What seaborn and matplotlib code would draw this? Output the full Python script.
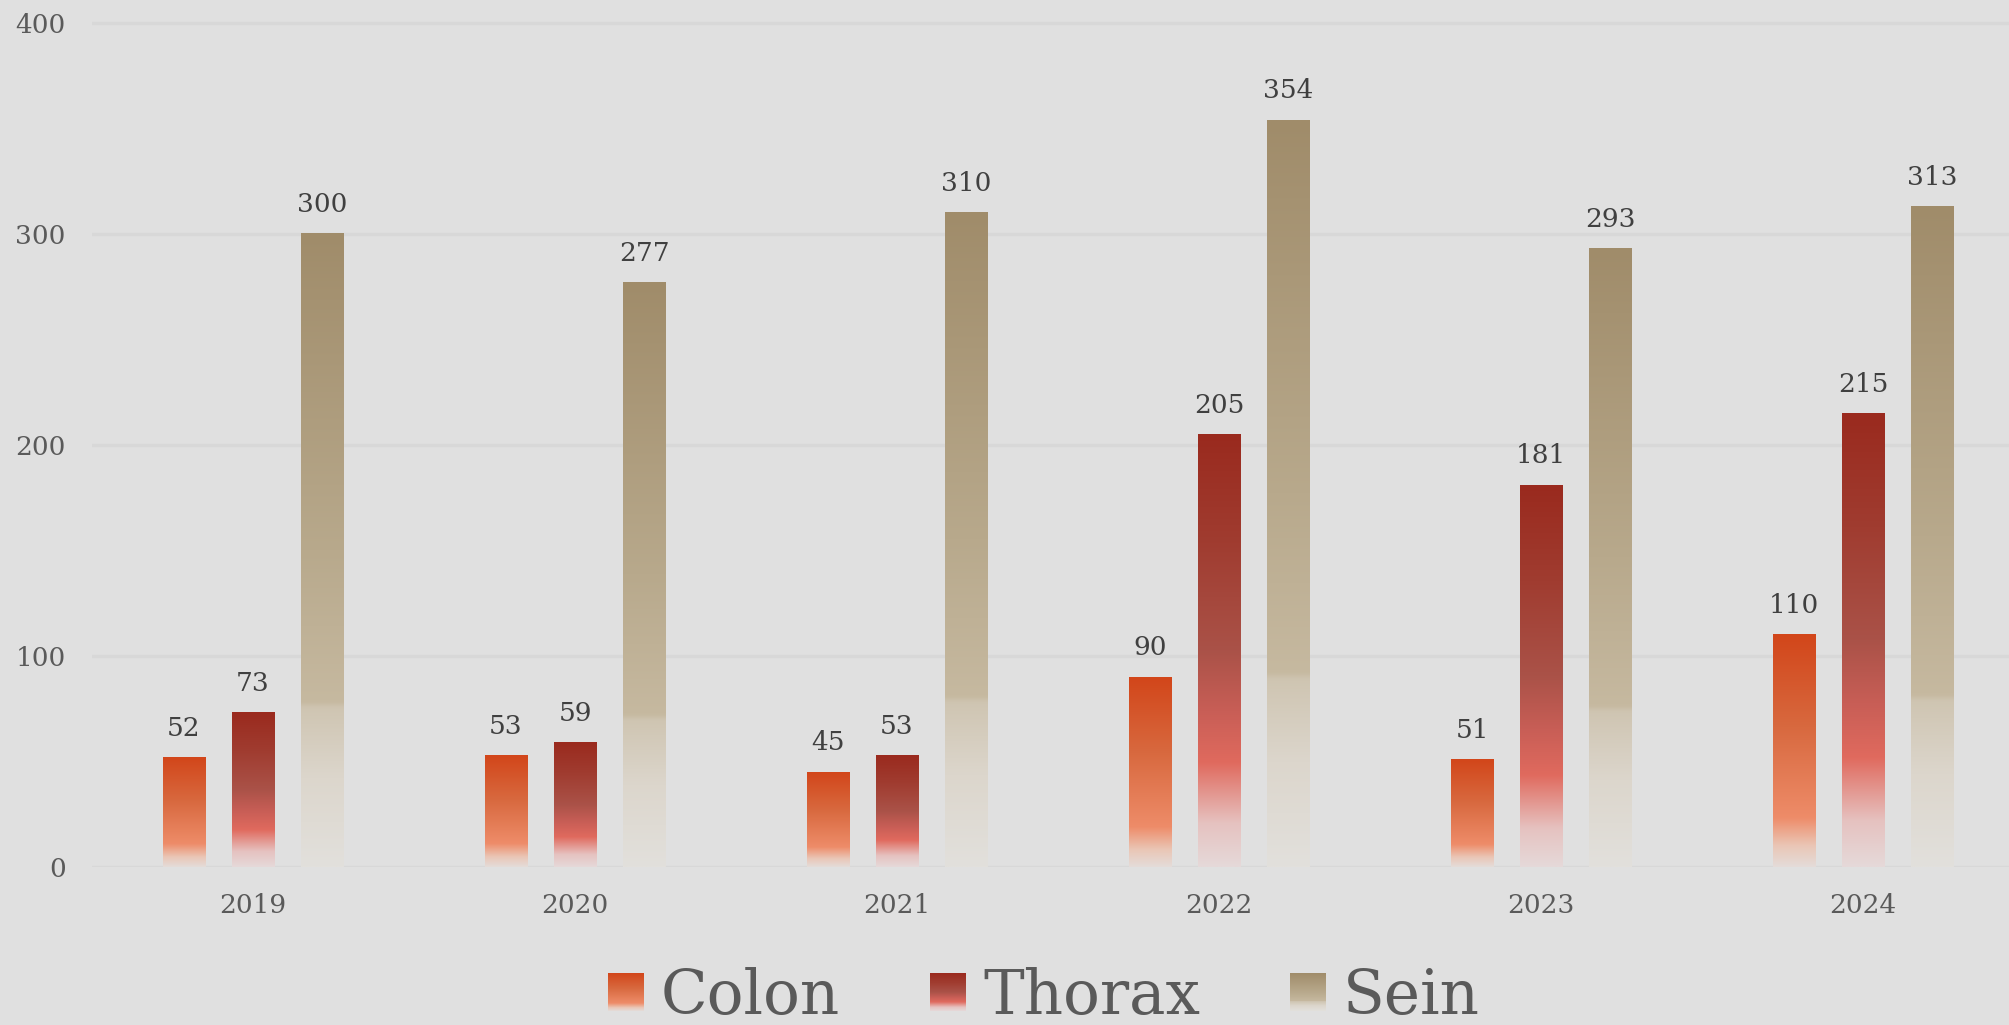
import numpy as np
import pandas as pd
import matplotlib.pyplot as plt
import seaborn as sns

from matplotlib.colors import LinearSegmentedColormap
from matplotlib.legend_handler import HandlerBase
from matplotlib.image import BboxImage
from matplotlib.transforms import Bbox, TransformedBbox
from matplotlib.patches import Rectangle

# données
years = ["2019", "2020", "2021", "2022", "2023", "2024"]
series = ["Colon", "Thorax", "Sein"]
colon = [52, 53, 45, 90, 51, 110]
thorax = [73, 59, 53, 205, 181, 215]
sein = [300, 277, 310, 354, 293, 313]

BG = "#e0e0e0"

# dégradés (du bas vers le haut de chaque barre)
cmaps = {
    "Colon": LinearSegmentedColormap.from_list("colon", [
        (0.0, "#e4dcd9"), (0.09, "#eac6b6"), (0.21, "#ee8c69"),
        (0.6, "#d8693f"), (1.0, "#d2461a")]),
    "Thorax": LinearSegmentedColormap.from_list("thorax", [
        (0.0, "#e5d9d9"), (0.1, "#e6c2c0"), (0.24, "#e06a5e"),
        (0.36, "#c85e56"), (0.5, "#aa5248"), (0.75, "#a03c30"), (1.0, "#9a2a1e")]),
    "Sein": LinearSegmentedColormap.from_list("sein", [
        (0.0, "#e2e0dc"), (0.14, "#dcd6cc"), (0.25, "#cfc5b2"), (0.26, "#c6b9a0"),
        (0.5, "#b8a98c"), (1.0, "#a08c6a")]),
}


class GradientHandler(HandlerBase):
    def __init__(self, cmap):
        super().__init__()
        self.cmap = cmap

    def create_artists(self, legend, orig_handle, xdescent, ydescent,
                       width, height, fontsize, trans):
        bb = TransformedBbox(Bbox.from_bounds(-xdescent, -ydescent, width, height), trans)
        img = BboxImage(bb, cmap=self.cmap, origin="lower", interpolation="bilinear")
        img.set_data(np.linspace(0, 1, 256).reshape(-1, 1))
        return [img]


df = pd.DataFrame({
    "annee": years * 3,
    "type": [s for s in series for _ in years],
    "valeur": colon + thorax + sein,
})

sns.set_theme(style="whitegrid")
plt.rcParams["font.family"] = ["DejaVu Serif"]

fig = plt.figure(figsize=(20.09, 10.25), dpi=100, facecolor=BG)
ax = fig.add_axes([92 / 2009, 1 - 867 / 1025, 1 - 92 / 2009, 867 / 1025])
ax.set_facecolor(BG)

sns.barplot(data=df, x="annee", y="valeur", hue="type", hue_order=series,
            width=0.643, gap=0.39, errorbar=None, legend=False, ax=ax)

grad = np.linspace(0, 1, 256).reshape(-1, 1)
for container, name in zip(ax.containers, series):
    for bar in container:
        x, w, h = bar.get_x(), bar.get_width(), bar.get_height()
        bar.set_facecolor("none")
        bar.set_edgecolor("none")
        ax.imshow(grad, extent=[x, x + w, 0, h], origin="lower", aspect="auto",
                  cmap=cmaps[name], interpolation="bilinear", zorder=2)
    ax.bar_label(container, padding=12, fontsize=19, color="#404040")

ax.set_xlim(-0.5, 5 + (2009 - 1863) / 322.2)
ax.set_ylim(0, 410.9)
ax.set_yticks([0, 100, 200, 300, 400])
ax.set_xlabel("")
ax.set_ylabel("")
ax.set_axisbelow(True)
ax.grid(axis="y", color="#d8d8d8", lw=2.5)
ax.grid(axis="x", visible=False)
for s in ax.spines.values():
    s.set_visible(False)
ax.tick_params(axis="both", length=0, labelsize=19, labelcolor="#5a5a5a", pad=19)

handles = [Rectangle((0, 0), 1, 1, label=s) for s in series]
fig.legend(handles=handles, labels=series, loc="center",
           bbox_to_anchor=(1044 / 2009, 1 - 997 / 1025), ncol=3, frameon=False,
           fontsize=44, handlelength=0.58, handleheight=0.57, handletextpad=0.29,
           columnspacing=1.47, labelcolor="#5a5a5a",
           handler_map={h: GradientHandler(cmaps[s]) for h, s in zip(handles, series)})

fig.savefig("out.png", dpi=100, facecolor=BG)
